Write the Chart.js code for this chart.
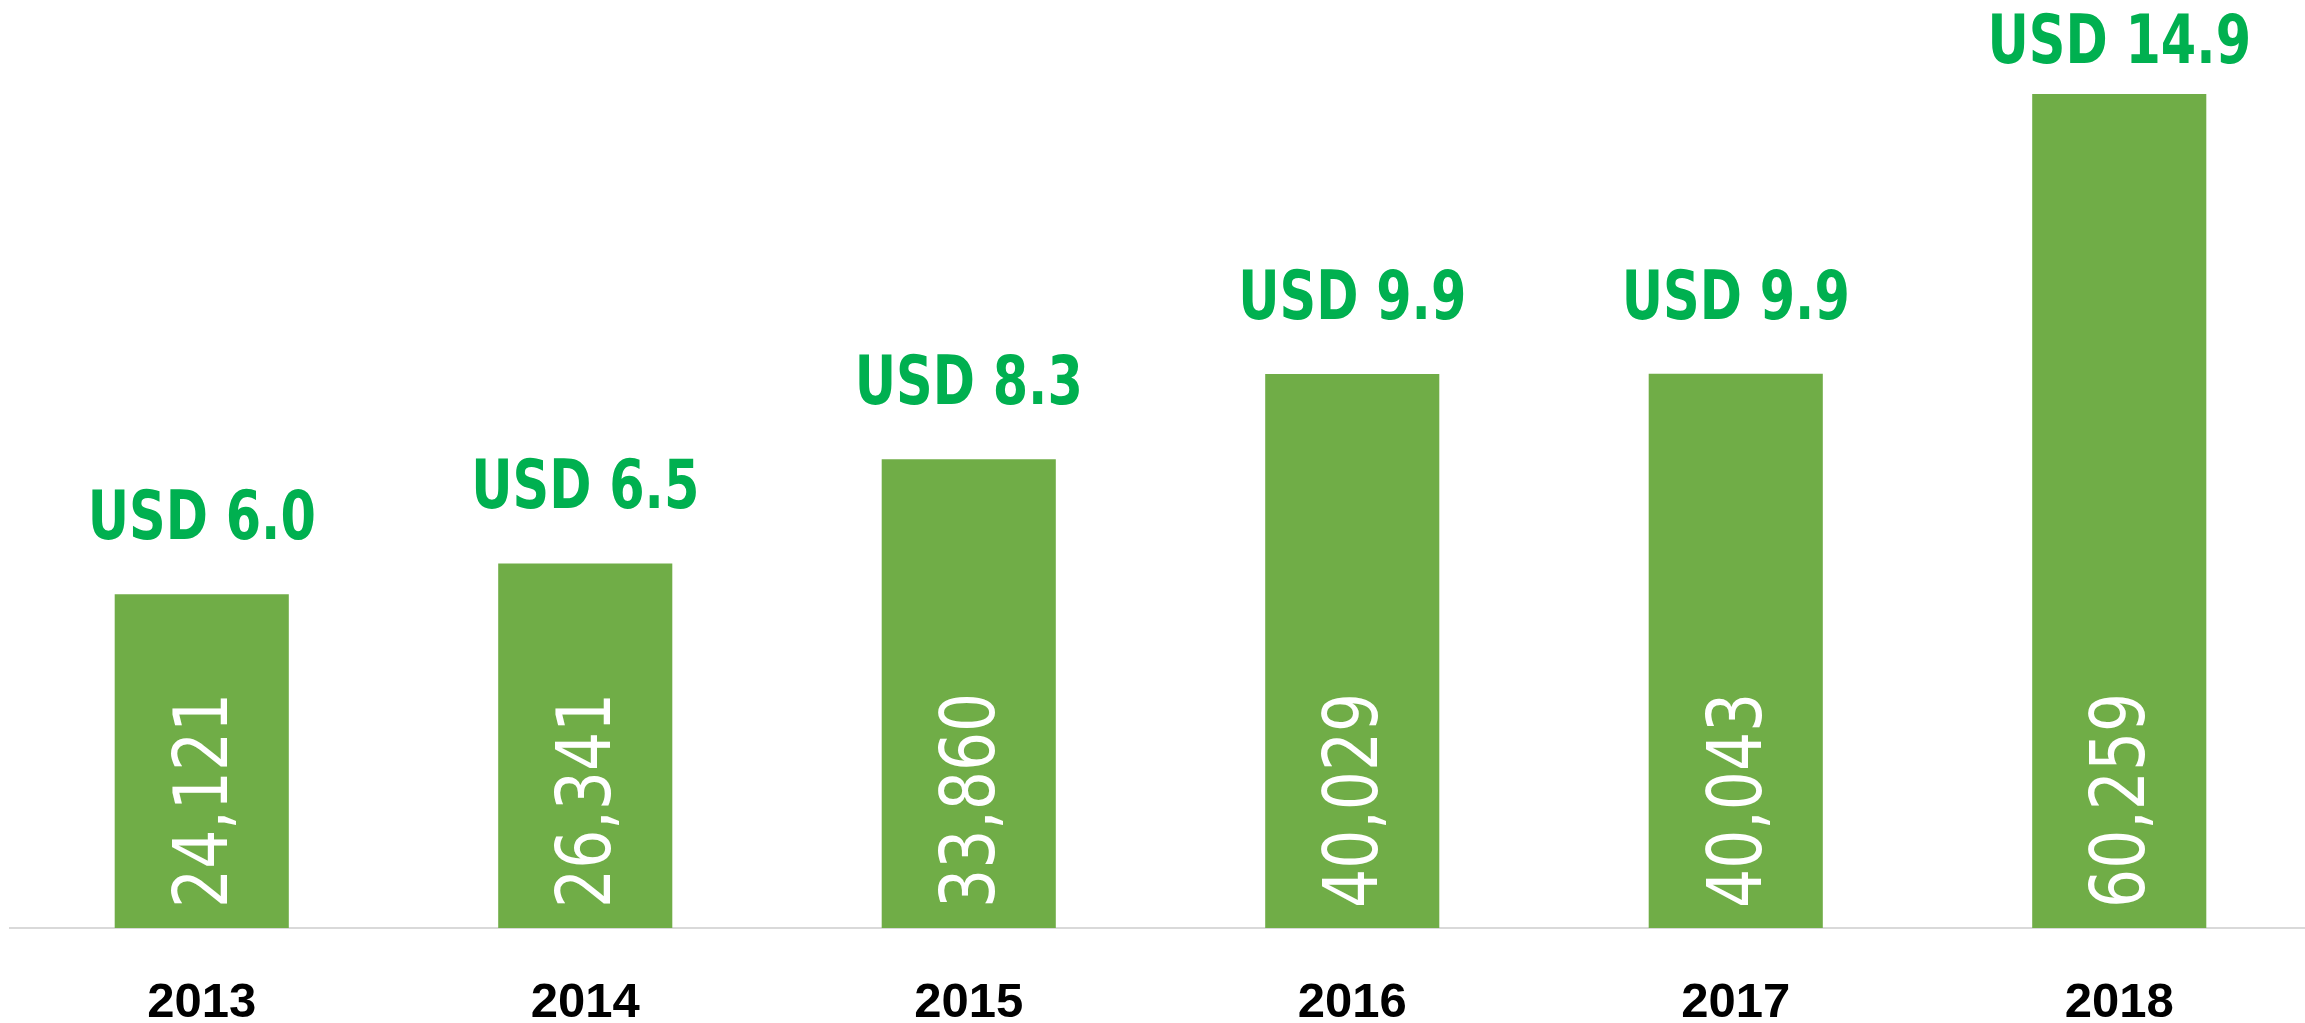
<!DOCTYPE html>
<html>
<head>
<meta charset="utf-8">
<script src="https://cdn.jsdelivr.net/npm/chart.js@4"></script>
<style>
    html, body { margin: 0; padding: 0; background: #fff; overflow: hidden; }
    canvas { display: block; }
</style>
</head>
<body>
<canvas id="usersChart" width="2311" height="1023"></canvas>
<script>
    const years = ['2013', '2014', '2015', '2016', '2017', '2018'];
    const counts = [24121, 26341, 33860, 40029, 40043, 60259];
    const usdValues = [6.0, 6.5, 8.3, 9.9, 9.9, 14.9];

    // labels drawn on top of / inside the bars
    const barLabels = {
        id: 'barLabels',
        afterDatasetsDraw(chart) {
            const ctx = chart.ctx;
            const meta = chart.getDatasetMeta(0);
            meta.data.forEach(function (bar, i) {
                // USD value above the bar (kept inside the canvas for the tallest one)
                ctx.save();
                const baseY = Math.max(bar.y - 55, 63);
                ctx.translate(bar.x, baseY);
                ctx.scale(0.76, 1);
                ctx.font = 'bold 67px "DejaVu Sans"';
                ctx.fillStyle = '#00b050';
                ctx.textAlign = 'center';
                ctx.textBaseline = 'alphabetic';
                ctx.fillText('USD ' + usdValues[i].toFixed(1), 0, 0);
                ctx.restore();

                // count, rotated, inside the bar
                ctx.save();
                ctx.translate(bar.x - 2, bar.base - 20);
                ctx.rotate(-Math.PI / 2);
                ctx.scale(0.82, 1);
                ctx.font = '75px "DejaVu Sans"';
                ctx.fillStyle = '#ffffff';
                ctx.textAlign = 'left';
                ctx.textBaseline = 'alphabetic';
                ctx.fillText(counts[i].toLocaleString('en-US'), 0, 27);
                ctx.restore();
            });
        }
    };

    new Chart(document.getElementById('usersChart'), {
        type: 'bar',
        data: {
            labels: years,
            datasets: [{
                data: counts,
                backgroundColor: '#70ad47',
                barPercentage: 0.454,
                categoryPercentage: 1
            }]
        },
        options: {
            responsive: false,
            animation: false,
            // the x axis reserves its tick padding twice, so let it run past the bottom edge
            layout: { padding: { top: 45, left: 10, right: 0, bottom: -56 } },
            plugins: {
                legend: { display: false },
                tooltip: { enabled: false }
            },
            scales: {
                x: {
                    grid: { display: false, drawTicks: false },
                    border: { display: true, color: '#d9d9d9', width: 2 },
                    ticks: {
                        color: '#000000',
                        padding: 51,
                        font: { family: '"Liberation Sans"', size: 49, weight: 'bold', lineHeight: 1 }
                    }
                },
                y: {
                    display: false,
                    min: 0,
                    max: 63800
                }
            }
        },
        plugins: [barLabels]
    });
</script>
</body>
</html>
